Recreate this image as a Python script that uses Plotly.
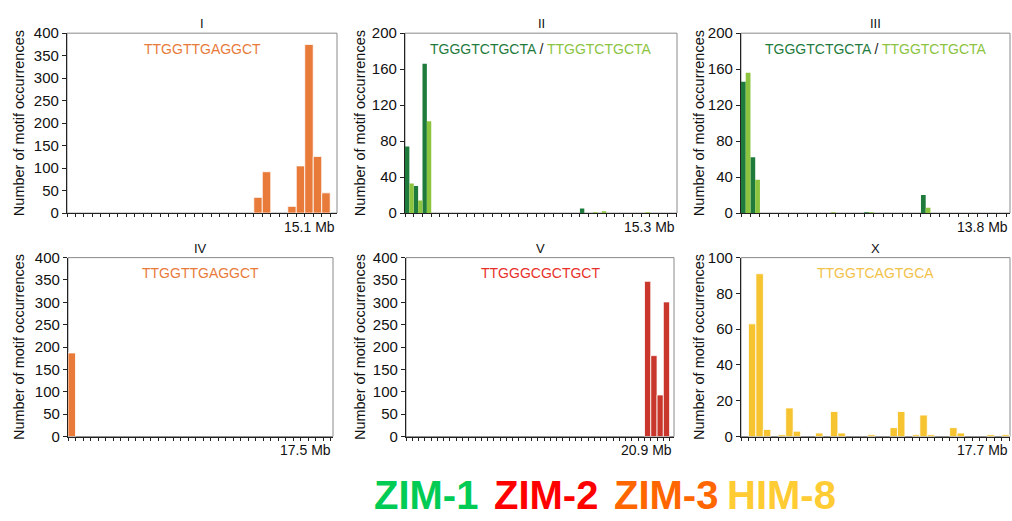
import plotly.graph_objects as go

W, H = 1012, 521

# ---------------- data (bin index = 0.5 Mb bins) ----------------
chrI_bins = [22, 23, 26, 27, 28, 29, 30]
chrI_counts = [35, 92, 15, 105, 375, 126, 45]

chrII_dark_bins = [0, 1, 2, 20]
chrII_dark_counts = [74, 30, 166, 5]
chrII_light_bins = [0, 1, 2, 21, 22, 27]
chrII_light_counts = [33, 14, 102, 1, 2, 1]

chrIII_dark_bins = [0, 1, 13, 19]
chrIII_dark_counts = [146, 62, 1, 20]
chrIII_light_bins = [0, 1, 9, 13, 19]
chrIII_light_counts = [156, 37, 1, 1, 6]

chrIV_bins = [0]
chrIV_counts = [187]

chrV_bins = [38, 39, 40, 41]
chrV_counts = [347, 181, 93, 301]

chrX_bins = [1, 2, 3, 5, 6, 7, 10, 12, 13, 17, 20, 21, 23, 24, 25, 28, 29, 33, 35]
chrX_counts = [63, 91, 4, 1, 16, 3, 2, 14, 2, 1, 5, 14, 1, 12, 1, 5, 2, 1, 1]

panel_titles = ["I", "II", "III", "IV", "V", "X"]
panel_lengths = ["15.1 Mb", "15.3 Mb", "13.8 Mb", "17.5 Mb", "20.9 Mb", "17.7 Mb"]
panel_nbins = [31, 31, 28, 35, 42, 36]
panel_xmax = [31.8, 31.1, 28.4, 35.3, 42.7, 36.1]
panel_ymax = [400, 200, 200, 400, 400, 100]
panel_dtick = [50, 40, 40, 50, 50, 20]

legend_names = ["ZIM-1", "ZIM-2", "ZIM-3", "HIM-8"]
legend_colors = ["#00CC55", "#FF0000", "#FF6600", "#FFCC33"]

# ---------------- styles ----------------
ORANGE = "#E87B3A"
DGREEN = "#1E7B3C"
LGREEN = "#8CC43F"
RED_BAR = "#C9372C"
RED_TXT = "#E8302A"
YELLOW = "#F6C431"
YELLOW_TXT = "#F2C24A"
FONT = "Liberation Sans, Arial, Helvetica, sans-serif"

# frame pixel boxes: (left, right, top, bottom)
boxes = [
    (67, 337, 25, 211), (405, 677, 25, 211), (741, 1010, 25, 211),
    (68, 333, 257, 442), (406, 674, 257, 442), (741, 1010, 257, 442),
]
ytitle_x = [19, 360, 699, 19, 360, 699]

fig = go.Figure()

def add_bar(k, bins, counts, color, width, offset, line_w):
    sfx = "" if k == 1 else str(k)
    fig.add_trace(go.Bar(
        x=bins, y=counts, width=width, offset=offset,
        marker=dict(color=color, line=dict(color="white", width=line_w)),
        xaxis="x" + sfx, yaxis="y" + sfx, showlegend=False, hoverinfo="x+y",
    ))

add_bar(1, chrI_bins, chrI_counts, ORANGE, 1, 0, 0.8)
add_bar(2, chrII_dark_bins, chrII_dark_counts, DGREEN, 0.5, 0, 0)
add_bar(2, chrII_light_bins, chrII_light_counts, LGREEN, 0.5, 0.5, 0)
add_bar(3, chrIII_dark_bins, chrIII_dark_counts, DGREEN, 0.5, 0, 0)
add_bar(3, chrIII_light_bins, chrIII_light_counts, LGREEN, 0.5, 0.5, 0)
add_bar(4, chrIV_bins, chrIV_counts, ORANGE, 1, 0, 0.8)
add_bar(5, chrV_bins, chrV_counts, RED_BAR, 1, 0, 0.8)
add_bar(6, chrX_bins, chrX_counts, YELLOW, 1, 0, 0.8)

layout = dict(
    width=W, height=H, margin=dict(l=0, r=0, t=0, b=0),
    paper_bgcolor="white", plot_bgcolor="white",
    barmode="overlay", showlegend=False,
    font=dict(family=FONT, color="#111"),
)
annotations = []
shapes = []

motifs = [
    ("TTGGTTGAGGCT", ORANGE),
    (f'<span style="color:{DGREEN}">TGGGTCTGCTA</span> / <span style="color:{LGREEN}">TTGGTCTGCTA</span>', "#222"),
    (f'<span style="color:{DGREEN}">TGGGTCTGCTA</span> / <span style="color:{LGREEN}">TTGGTCTGCTA</span>', "#222"),
    ("TTGGTTGAGGCT", ORANGE),
    ("TTGGGCGCTGCT", RED_TXT),
    ("TTGGTCAGTGCA", YELLOW_TXT),
]

for i, (l, r, t, b) in enumerate(boxes):
    k = i + 1
    sfx = "" if k == 1 else str(k)
    layout["xaxis" + sfx] = dict(
        domain=[l / W, r / W], range=[0, panel_xmax[i]],
        tickmode="array", tickvals=list(range(panel_nbins[i] + 1)),
        ticks="outside", ticklen=3, tickwidth=1, tickcolor="#222",
        showticklabels=False, showline=True, linecolor="#222", linewidth=1.3,
        showgrid=False, zeroline=False, anchor="y" + sfx, fixedrange=True,
    )
    layout["yaxis" + sfx] = dict(
        domain=[1 - b / H, 1 - t / H], range=[0, panel_ymax[i]],
        dtick=panel_dtick[i], tick0=0,
        ticks="outside", ticklen=4, tickwidth=1, tickcolor="#222",
        tickfont=dict(size=15, family=FONT, color="#111"),
        showline=True, linecolor="#222", linewidth=1.2,
        showgrid=False, zeroline=False, anchor="x" + sfx, fixedrange=True,
    )
    shapes.append(dict(type="rect", xref="x" + sfx + " domain", yref="y" + sfx + " domain",
                       x0=0, x1=1, y0=0, y1=1, line=dict(color="#8a8a8a", width=1),
                       layer="below"))
    cx = (l + r) / 2 / W
    # chromosome title
    annotations.append(dict(text=panel_titles[i], x=cx, y=1 - (t - 9.5) / H, xref="paper", yref="paper",
                            xanchor="center", yanchor="middle", showarrow=False,
                            font=dict(size=13, family=FONT, color="#111")))
    # motif
    mtext, mcol = motifs[i]
    annotations.append(dict(text=mtext, x=cx, y=1 - (t + 16) / H, xref="paper", yref="paper",
                            xanchor="center", yanchor="middle", showarrow=False,
                            font=dict(size=14, family=FONT, color=mcol)))
    # chromosome length
    annotations.append(dict(text=panel_lengths[i], x=r / W, y=1 - (b + 14) / H, xref="paper", yref="paper",
                            xanchor="right", yanchor="middle", showarrow=False,
                            font=dict(size=14, family=FONT, color="#111")))
    # y title
    annotations.append(dict(text="Number of motif occurrences", textangle=-90,
                            x=ytitle_x[i] / W, y=1 - (t + b) / 2 / H, xref="paper", yref="paper",
                            xanchor="center", yanchor="middle", showarrow=False,
                            font=dict(size=14.5, family=FONT, color="#111")))

legend_x = [372, 492, 612, 725]
for name, col, lx in zip(legend_names, legend_colors, legend_x):
    annotations.append(dict(text=f"<b>{name}</b>", x=lx / W, y=1 - 502 / H, xref="paper", yref="paper",
                            xanchor="left", yanchor="middle", showarrow=False,
                            font=dict(size=40, family=FONT, color=col)))

layout["annotations"] = annotations
layout["shapes"] = shapes
fig.update_layout(**layout)
fig.write_html("out.html")
